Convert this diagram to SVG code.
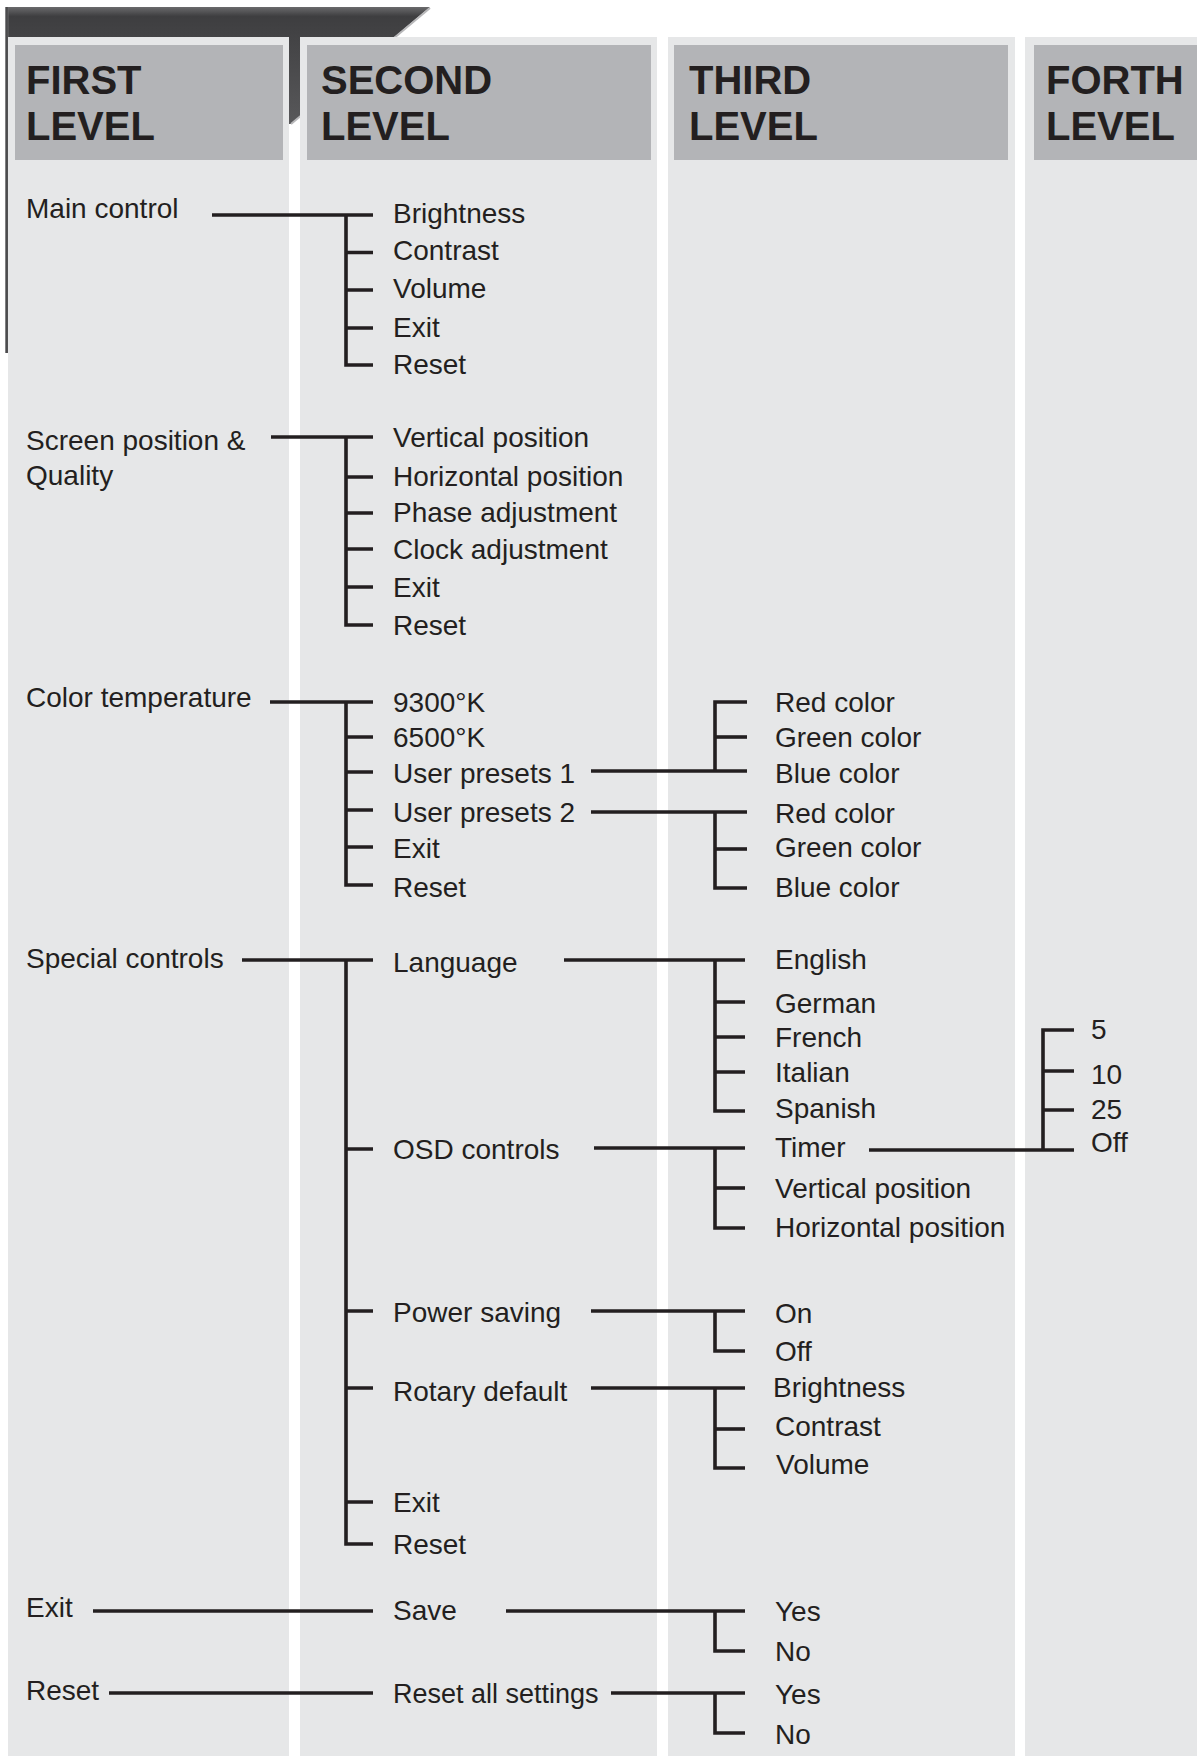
<svg xmlns="http://www.w3.org/2000/svg" width="1197" height="1756" viewBox="0 0 1197 1756">
  <defs>
    <linearGradient id="darkGrad" x1="0" y1="0" x2="0" y2="1">
      <stop offset="0" stop-color="#6a6a6c"/>
      <stop offset="0.08" stop-color="#3e3e40"/>
      <stop offset="1" stop-color="#58585a"/>
    </linearGradient>
    <linearGradient id="edgeGrad" x1="0" y1="0" x2="1" y2="0">
      <stop offset="0" stop-color="#9a9a9c"/>
      <stop offset="0.5" stop-color="#3e3e40"/>
      <stop offset="1" stop-color="#6a6a6c"/>
    </linearGradient>
    <style>
      .panel { fill: #e6e7e8; }
      .header { fill: #b3b4b7; }
      .htxt { font-family: "Liberation Sans", Arial, sans-serif; font-weight: bold; font-size: 40px; fill: #231f20; }
      .txt { font-family: "Liberation Sans", Arial, sans-serif; font-size: 28px; fill: #231f20; }
      .tight { font-size: 27px; }
      .ln { fill: none; stroke: #231f20; stroke-width: 3.6; stroke-linecap: butt; stroke-linejoin: miter; }
    </style>
  </defs>

  <rect x="0" y="0" width="1197" height="1756" fill="#ffffff"/>

  <!-- dark tab behind the panels -->
  <g id="backdrop">
    <polygon points="5,7 430,7 291,124 5,124" fill="url(#darkGrad)"/>
    <line x1="430" y1="8" x2="291" y2="124" stroke="#b8b8ba" stroke-width="2"/>
    <rect x="5" y="7" width="3.5" height="346" fill="url(#edgeGrad)"/>
  </g>

  <!-- column panels and headers -->
  <g id="col-first">
    <rect class="panel" x="8" y="37" width="281" height="1719"/>
    <rect class="header" x="15" y="45" width="268" height="115"/>
    <text class="htxt" x="26" y="94">FIRST</text>
    <text class="htxt" x="26" y="140">LEVEL</text>
  </g>
  <g id="col-second">
    <rect class="panel" x="300" y="37" width="357" height="1719"/>
    <rect class="header" x="307" y="45" width="344" height="115"/>
    <text class="htxt" x="321" y="94">SECOND</text>
    <text class="htxt" x="321" y="140">LEVEL</text>
  </g>
  <g id="col-third">
    <rect class="panel" x="668" y="37" width="347" height="1719"/>
    <rect class="header" x="674" y="45" width="334" height="115"/>
    <text class="htxt" x="689" y="94">THIRD</text>
    <text class="htxt" x="689" y="140">LEVEL</text>
  </g>
  <g id="col-forth">
    <rect class="panel" x="1025" y="37" width="172" height="1719"/>
    <rect class="header" x="1034" y="45" width="163" height="115"/>
    <text class="htxt" x="1046" y="94">FORTH</text>
    <text class="htxt" x="1046" y="140">LEVEL</text>
  </g>

  <!-- connectors -->
  <g id="connectors" class="ln">
    <!-- Main control -->
    <path d="M212,215 H373"/>
    <path d="M346,215 V365 H373"/>
    <path d="M346,252.5 H373 M346,290 H373 M346,328 H373"/>
    <!-- Screen position & Quality -->
    <path d="M271,437 H373"/>
    <path d="M346,437 V625 H373"/>
    <path d="M346,477 H373 M346,513 H373 M346,549 H373 M346,587 H373"/>
    <!-- Color temperature -->
    <path d="M270,702 H373"/>
    <path d="M346,702 V885 H373"/>
    <path d="M346,737 H373 M346,772 H373 M346,810 H373 M346,847 H373"/>
    <!-- User presets 1 -->
    <path d="M591,771 H747"/>
    <path d="M747,702 H715 V771"/>
    <path d="M715,737 H747"/>
    <!-- User presets 2 -->
    <path d="M591,812 H747"/>
    <path d="M715,812 V888 H747"/>
    <path d="M715,849 H747"/>
    <!-- Special controls -->
    <path d="M242,960 H373"/>
    <path d="M346,960 V1544 H373"/>
    <path d="M346,1149 H373 M346,1311 H373 M346,1388 H373 M346,1502 H373"/>
    <!-- Language -->
    <path d="M564,960 H745"/>
    <path d="M715,960 V1111 H745"/>
    <path d="M715,1002 H745 M715,1037 H745 M715,1072 H745"/>
    <!-- OSD controls -->
    <path d="M594,1148 H745"/>
    <path d="M715,1148 V1228 H745"/>
    <path d="M715,1188 H745"/>
    <!-- Timer -->
    <path d="M869,1150 H1074"/>
    <path d="M1074,1030 H1043 V1150"/>
    <path d="M1043,1071 H1074 M1043,1110 H1074"/>
    <!-- Power saving -->
    <path d="M591,1311 H745"/>
    <path d="M715,1311 V1351 H745"/>
    <!-- Rotary default -->
    <path d="M591,1388 H745"/>
    <path d="M715,1388 V1468 H745"/>
    <path d="M715,1429 H745"/>
    <!-- Exit / Save -->
    <path d="M93,1611 H373"/>
    <path d="M506,1611 H745"/>
    <path d="M715,1611 V1651 H745"/>
    <!-- Reset / Reset all settings -->
    <path d="M109,1693 H373"/>
    <path d="M611,1693 H745"/>
    <path d="M715,1693 V1733 H745"/>
  </g>

  <!-- first level nodes -->
  <g id="n-main-control"><text class="txt" x="26" y="218">Main control</text></g>
  <g id="n-screen-position"><text class="txt" x="26" y="450">Screen position &amp;</text><text class="txt" x="26" y="485">Quality</text></g>
  <g id="n-color-temperature"><text class="txt" x="26" y="707">Color temperature</text></g>
  <g id="n-special-controls"><text class="txt" x="26" y="968">Special controls</text></g>
  <g id="n-exit"><text class="txt" x="26" y="1617">Exit</text></g>
  <g id="n-reset"><text class="txt" x="26" y="1700">Reset</text></g>

  <!-- second level nodes -->
  <g id="n-mc-brightness"><text class="txt" x="393" y="223">Brightness</text></g>
  <g id="n-mc-contrast"><text class="txt" x="393" y="260">Contrast</text></g>
  <g id="n-mc-volume"><text class="txt" x="393" y="298">Volume</text></g>
  <g id="n-mc-exit"><text class="txt" x="393" y="337">Exit</text></g>
  <g id="n-mc-reset"><text class="txt" x="393" y="374">Reset</text></g>

  <g id="n-sp-vertical"><text class="txt" x="393" y="447">Vertical position</text></g>
  <g id="n-sp-horizontal"><text class="txt" x="393" y="486">Horizontal position</text></g>
  <g id="n-sp-phase"><text class="txt" x="393" y="522">Phase adjustment</text></g>
  <g id="n-sp-clock"><text class="txt" x="393" y="559">Clock adjustment</text></g>
  <g id="n-sp-exit"><text class="txt" x="393" y="597">Exit</text></g>
  <g id="n-sp-reset"><text class="txt" x="393" y="635">Reset</text></g>

  <g id="n-ct-9300"><text class="txt" x="393" y="712">9300°K</text></g>
  <g id="n-ct-6500"><text class="txt" x="393" y="747">6500°K</text></g>
  <g id="n-ct-user1"><text class="txt" x="393" y="783">User presets 1</text></g>
  <g id="n-ct-user2"><text class="txt" x="393" y="822">User presets 2</text></g>
  <g id="n-ct-exit"><text class="txt" x="393" y="858">Exit</text></g>
  <g id="n-ct-reset"><text class="txt" x="393" y="897">Reset</text></g>

  <g id="n-sc-language"><text class="txt" x="393" y="972">Language</text></g>
  <g id="n-sc-osd"><text class="txt" x="393" y="1159">OSD controls</text></g>
  <g id="n-sc-power"><text class="txt" x="393" y="1322">Power saving</text></g>
  <g id="n-sc-rotary"><text class="txt" x="393" y="1401">Rotary default</text></g>
  <g id="n-sc-exit"><text class="txt" x="393" y="1512">Exit</text></g>
  <g id="n-sc-reset"><text class="txt" x="393" y="1554">Reset</text></g>

  <g id="n-save"><text class="txt" x="393" y="1620">Save</text></g>
  <g id="n-reset-all"><text class="txt tight" x="393" y="1703">Reset all settings</text></g>

  <!-- third level nodes -->
  <g id="n-u1-red"><text class="txt" x="775" y="712">Red color</text></g>
  <g id="n-u1-green"><text class="txt" x="775" y="747">Green color</text></g>
  <g id="n-u1-blue"><text class="txt" x="775" y="783">Blue color</text></g>
  <g id="n-u2-red"><text class="txt" x="775" y="823">Red color</text></g>
  <g id="n-u2-green"><text class="txt" x="775" y="857">Green color</text></g>
  <g id="n-u2-blue"><text class="txt" x="775" y="897">Blue color</text></g>

  <g id="n-lang-english"><text class="txt" x="775" y="969">English</text></g>
  <g id="n-lang-german"><text class="txt" x="775" y="1013">German</text></g>
  <g id="n-lang-french"><text class="txt" x="775" y="1047">French</text></g>
  <g id="n-lang-italian"><text class="txt" x="775" y="1082">Italian</text></g>
  <g id="n-lang-spanish"><text class="txt" x="775" y="1118">Spanish</text></g>

  <g id="n-osd-timer"><text class="txt" x="775" y="1157">Timer</text></g>
  <g id="n-osd-vertical"><text class="txt" x="775" y="1198">Vertical position</text></g>
  <g id="n-osd-horizontal"><text class="txt" x="775" y="1237">Horizontal position</text></g>

  <g id="n-ps-on"><text class="txt" x="775" y="1323">On</text></g>
  <g id="n-ps-off"><text class="txt" x="775" y="1361">Off</text></g>

  <g id="n-rd-brightness"><text class="txt" x="773" y="1397">Brightness</text></g>
  <g id="n-rd-contrast"><text class="txt" x="775" y="1436">Contrast</text></g>
  <g id="n-rd-volume"><text class="txt" x="776" y="1474">Volume</text></g>

  <g id="n-save-yes"><text class="txt" x="775" y="1621">Yes</text></g>
  <g id="n-save-no"><text class="txt" x="775" y="1661">No</text></g>
  <g id="n-ra-yes"><text class="txt" x="775" y="1704">Yes</text></g>
  <g id="n-ra-no"><text class="txt" x="775" y="1744">No</text></g>

  <!-- fourth level nodes -->
  <g id="n-t-5"><text class="txt" x="1091" y="1039">5</text></g>
  <g id="n-t-10"><text class="txt" x="1091" y="1084">10</text></g>
  <g id="n-t-25"><text class="txt" x="1091" y="1119">25</text></g>
  <g id="n-t-off"><text class="txt" x="1091" y="1152">Off</text></g>
</svg>
